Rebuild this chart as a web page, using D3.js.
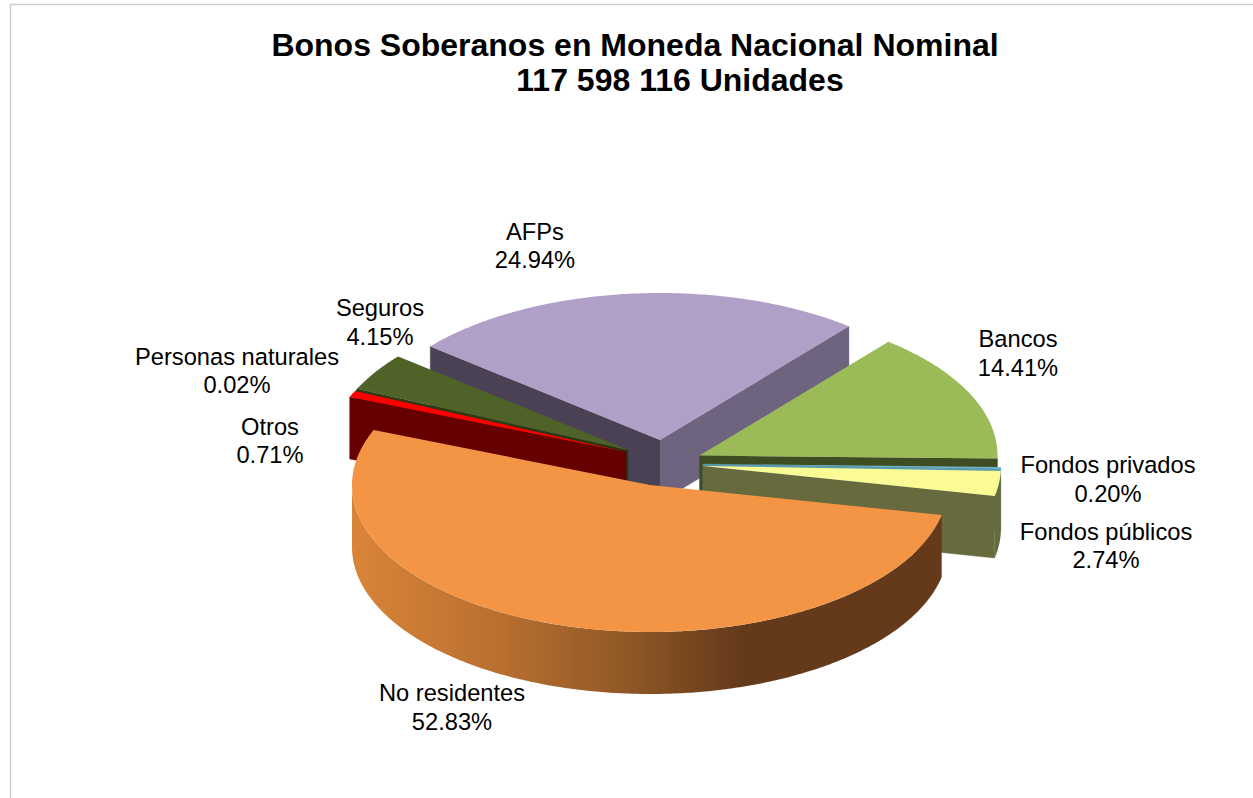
<!DOCTYPE html>
<html><head><meta charset="utf-8">
<script src="https://cdn.jsdelivr.net/npm/d3@7"></script>
<style>html,body{margin:0;padding:0;background:#fff}svg{display:block}text{font-family:"Liberation Sans",Arial,sans-serif;fill:#000}</style>
</head><body><div id="chart"></div>
<script>
const categories = ["No residentes","Otros","Personas naturales","Seguros","AFPs","Bancos","Fondos privados","Fondos públicos"];
const shares = [52.83,0.71,0.02,4.15,24.94,14.41,0.20,2.74];
const titleLines = ["Bonos Soberanos en Moneda Nacional Nominal","117 598 116 Unidades"];

// ---- drawing configuration (not data) ----
const W=1253,H=798, RX=298, RY=147, DEPTH=62, START=101.8*Math.PI/180;
const style = {
 "No residentes":{top:"#F39545",face:"#653A1B",c:[650,485]},
 "Otros":{top:"#FF0000",face:"#660000",c:[626,452]},
 "Personas naturales":{top:"#4F6228",face:"#2A3515",c:[627,451]},
 "Seguros":{top:"#4F6228",face:"#2A3515",c:[628,450]},
 "AFPs":{top:"#B09FC6",face:"#4A4254",faceEnd:"#6F6480",c:[660,440]},
 "Bancos":{top:"#9BBB59",face:"#3F4D23",c:[699.5,455.5]},
 "Fondos privados":{top:"#6FB3C9",face:"#5A9DB0",c:[703,464]},
 "Fondos públicos":{top:"#FBFB96",face:"#676A3C",c:[703,466]}
};
const labelPos = {
 "No residentes":[452,701,730],"Otros":[270,435,463],"Personas naturales":[237,365,393],
 "Seguros":[380,316,345],"AFPs":[535,240,268],"Bancos":[1018,347,376],
 "Fondos privados":[1108,473,502],"Fondos públicos":[1106,540,568]
};
const paintOrder = ["AFPs","Bancos","Fondos privados","Fondos públicos","Seguros","Personas naturales","Otros","No residentes"];

const svg = d3.select("#chart").append("svg").attr("width",W).attr("height",H);
const defs = svg.append("defs");
const grad = defs.append("linearGradient").attr("id","rimOrange").attr("gradientUnits","userSpaceOnUse")
  .attr("x1",352).attr("x2",941).attr("y1",0).attr("y2",0);
[[0,"#D98539"],[0.25,"#B96F30"],[0.45,"#935A26"],[0.66,"#653A1B"],[1,"#653A1B"]].forEach(([o,c])=>
  grad.append("stop").attr("offset",o).attr("stop-color",c));

// frame
svg.append("path").attr("d",`M10.5,${H} V4.5 H${W}`).attr("fill","none").attr("stroke","#cccccc").attr("stroke-width",1.5);

// title
svg.selectAll("text.title").data(titleLines).join("text").attr("class","title")
  .attr("x",(d,i)=>i?680:635).attr("y",(d,i)=>i?91:56).attr("text-anchor","middle")
  .attr("font-size",32).attr("font-weight","bold").text(d=>d);

// pie layout: d3.pie angles run clockwise from 12 o'clock; screen angle = pie angle - 90deg
const pie = d3.pie().sort(null).startAngle(START).endAngle(START+2*Math.PI);
const arcs = pie(shares).map((d,i)=>({name:categories[i],share:shares[i],a0:d.startAngle-Math.PI/2,a1:d.endAngle-Math.PI/2}));
const line = d3.line();
const project=(c,a,dz=0)=>[c[0]+RX*Math.cos(a),c[1]+RY*Math.sin(a)+dz];
const arcPts=(c,a0,a1,dz=0)=>{const n=Math.max(2,Math.ceil(Math.abs(a1-a0)/0.01));return d3.range(n+1).map(i=>project(c,a0+(a1-a0)*i/n,dz));};

const byName=Object.fromEntries(arcs.map(d=>[d.name,d]));
const g=svg.append("g");
paintOrder.forEach(name=>{
  const d=byName[name], s=style[name], c=s.c;
  const slice=g.append("g").attr("class","slice");
  const a0=d.a0,a1=d.a1;
  // cut faces
  const cut=(a,col)=>{const p=project(c,a);
    slice.append("path").attr("d",line([c,p,[p[0],p[1]+DEPTH],[c[0],c[1]+DEPTH]])+"Z").attr("fill",col).attr("stroke",col).attr("stroke-width",0.4);};
  if(Math.cos(a0)<0) cut(a0,s.face);
  if(Math.cos(a1)>0) cut(a1,s.faceEnd||s.face);
  // outer rim, front half only
  [[0,Math.PI],[2*Math.PI,3*Math.PI]].forEach(([lo,hi])=>{
    const b0=Math.max(a0,lo),b1=Math.min(a1,hi);
    if(b1>b0){
      const up=arcPts(c,b0,b1), down=arcPts(c,b1,b0,DEPTH);
      slice.append("path").attr("d",line(up.concat(down))+"Z")
        .attr("fill",name==="No residentes"?"url(#rimOrange)":s.face);
    }
  });
  // top
  slice.append("path").attr("d",line([c].concat(arcPts(c,a0,a1)))+"Z").attr("fill",s.top);
});

// labels
categories.forEach((name,i)=>{
  const [x,y1,y2]=labelPos[name];
  const t=svg.append("text").attr("text-anchor","middle").attr("font-size",23.7);
  t.append("tspan").attr("x",x).attr("y",y1).text(name);
  t.append("tspan").attr("x",x).attr("y",y2).text(shares[i].toFixed(2)+"%");
});
</script></body></html>
